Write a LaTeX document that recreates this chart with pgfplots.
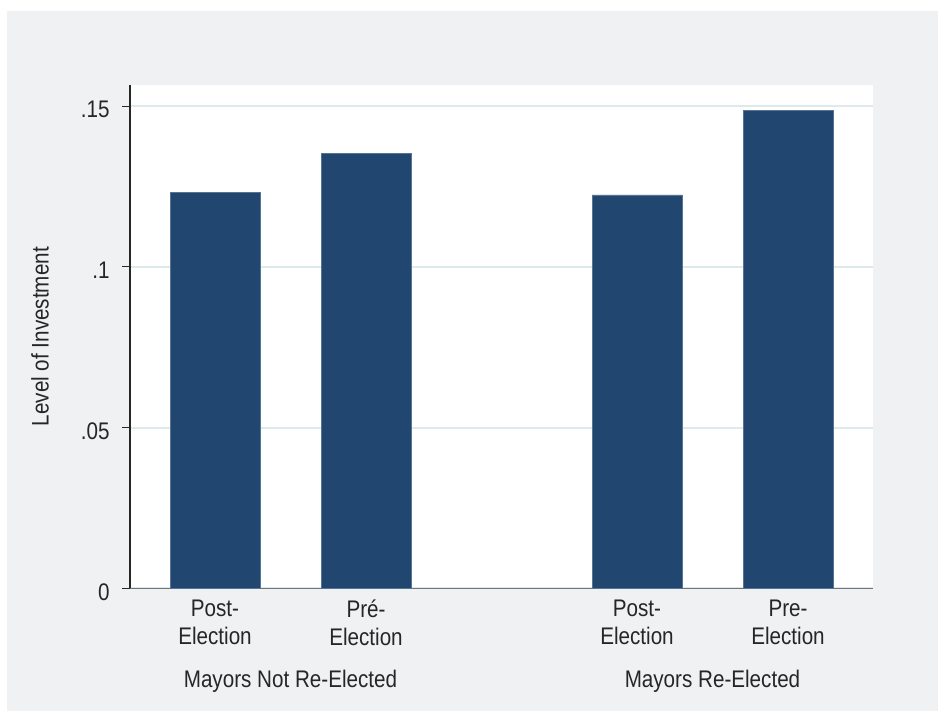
\documentclass[border=0pt]{standalone}
\usepackage{fontspec}
\setmainfont{Liberation Sans}[FakeStretch=0.86]
\usepackage{pgfplots}
\pgfplotsset{compat=1.18}
\definecolor{bg}{RGB}{240,241,243}
\definecolor{barc}{RGB}{33,70,111}
\definecolor{gridc}{RGB}{222,233,236}
\begin{document}
\fontsize{12}{14}\selectfont
\begin{tikzpicture}
\fill[white] (0,0) rectangle (469pt,355.5pt);
\fill[bg] (3.5pt,0) rectangle (469pt,350pt);
\path[use as bounding box] (0,0) rectangle (469pt,355.5pt);
\begin{axis}[
  at={(65pt,61.35pt)}, anchor=south west,
  scale only axis, width=371.5pt, height=251.65pt,
  xmin=130, xmax=873, ymin=0, ymax=0.1566,
  axis x line=bottom, axis y line=left,
  axis line style={-},
  x axis line style={draw=black!55, line width=0.6pt},
  y axis line style={draw=black!85, line width=0.6pt},
  axis background/.style={fill=white},
  ybar, bar width=90,
  ytick={0,0.05,0.1,0.15}, yticklabels={0,.05,.1,.15},
  xtick={215,366,637,788},
  xticklabels={Post-\\Election, Pré-\\Election, Post-\\Election, Pre-\\Election},
  tick align=outside, major tick length=4pt,
  ytick style={draw=black!85, line width=0.6pt},
  xtick style={draw=none},
  ymajorgrids, major grid style={draw=gridc, line width=1pt},
  tick label style={font=\fontsize{12}{14}\selectfont, text=black!85},
  /pgf/number format/assume math mode=true,
  xticklabel style={align=center, anchor=north, inner sep=0pt, yshift=-1.75pt},
  yticklabel style={anchor=east, inner sep=0pt, xshift=-6pt, yshift=-1.75pt},
  ylabel={Level of Investment},
  every axis y label/.style={at={(axis description cs:-0.1211,0.5)}, rotate=90, anchor=center, font=\fontsize{12}{14}\selectfont, text=black!85},
  clip=false,
]
\addplot[fill=barc, draw=barc!75!white, line width=0.3pt] coordinates {(215,0.1233) (366,0.1354) (637,0.1224) (788,0.1488)};
\node[anchor=base, text=black!85] at ([yshift=-49.85pt]axis cs:290.5,0) {Mayors Not Re-Elected};
\node[anchor=base, text=black!85] at ([yshift=-49.85pt]axis cs:712.5,0) {Mayors Re-Elected};
\end{axis}
\end{tikzpicture}
\end{document}
